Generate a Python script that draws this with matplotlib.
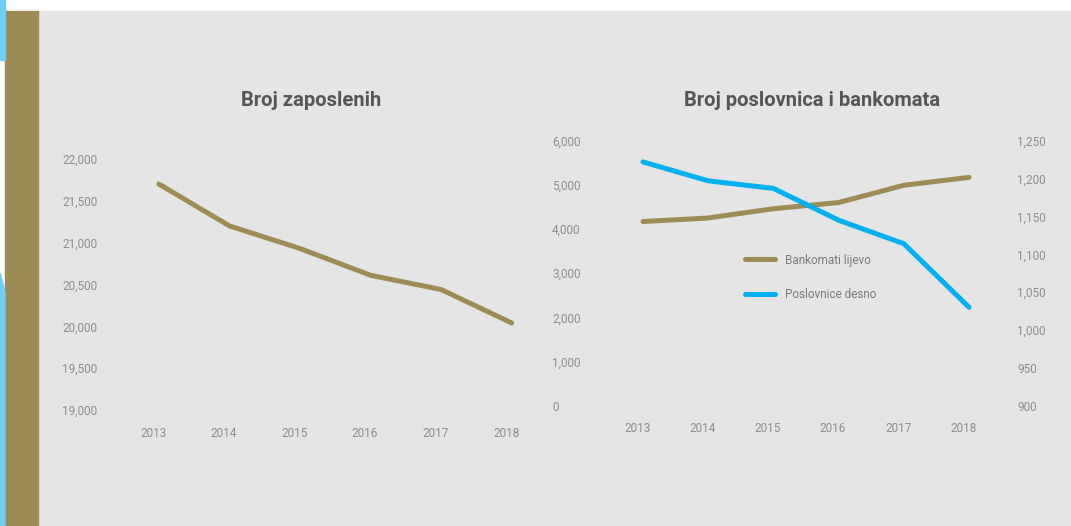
import matplotlib.pyplot as plt
import matplotlib.transforms as mtransforms
from matplotlib.patches import Rectangle, Polygon

plt.rcParams['font.family'] = ['Roboto', 'DejaVu Sans']

years = ['2013', '2014', '2015', '2016', '2017', '2018']
zaposleni = [21700, 21200, 20930, 20610, 20440, 20040]
bankomati = [4170, 4250, 4460, 4600, 4990, 5170]
poslovnice = [1222, 1197, 1187, 1145, 1114, 1030]

emp_ticks = [19000, 19500, 20000, 20500, 21000, 21500, 22000]
atm_ticks = [0, 1000, 2000, 3000, 4000, 5000, 6000]
branch_ticks = [900, 950, 1000, 1050, 1100, 1150, 1200, 1250]

TAN = '#9d8d54'
BLUE = '#00b0f0'
BG = '#e5e5e5'
TICK_C = '#8c8c8c'
TITLE_C = '#555555'

W, H = 1071, 526
fig = plt.figure(figsize=(W / 100, H / 100), dpi=100, facecolor='white')


def px_box(x0, y0, x1, y1):
    # pixel box (top-left origin) -> figure fraction rect
    return [x0 / W, 1 - y1 / H, (x1 - x0) / W, (y1 - y0) / H]


# page background, side band and blue edge strip (kept under the axes)
fig.patches.append(Rectangle((38 / W, 0), 1 - 38 / W, 1 - 11 / H,
                             transform=fig.transFigure, color=BG, zorder=-5))
fig.patches.append(Rectangle((5 / W, 0), 33 / W, 1 - 11 / H,
                             transform=fig.transFigure, color='#9c8b54', zorder=-5))
fig.patches.append(Rectangle((0, 1 - 60 / H), 5 / W, 60 / H,
                             transform=fig.transFigure, color='#6dcff6', zorder=-5))
fig.patches.append(Polygon([(0, 1 - 273 / H), (5 / W, 1 - 292 / H), (5 / W, 0), (0, 0)],
                           closed=True, transform=fig.transFigure, color='#6dcff6', zorder=-5))

# year labels sit a little left of the plotted points
shift = mtransforms.ScaledTranslation(-5.5 / 100, 0, fig.dpi_scale_trans)


def style(ax, xpad):
    ax.set_facecolor('none')
    for s in ax.spines.values():
        s.set_visible(False)
    ax.tick_params(length=0, colors=TICK_C, labelsize=8.5)
    ax.set_xlim(-0.5, 5.5)
    ax.set_xticks(range(len(years)))
    ax.set_xticklabels(years)
    ax.tick_params(axis='x', pad=xpad)
    for lab in ax.get_xticklabels():
        lab.set_transform(lab.get_transform() + shift)


# Broj zaposlenih
ax1 = fig.add_axes(px_box(123.7, 159, 547, 410))
style(ax1, 12.5)
ax1.plot(range(len(years)), zaposleni, color=TAN, lw=3.6, solid_capstyle='round', clip_on=False)
ax1.set_ylim(19000, 22000)
ax1.set_yticks(emp_ticks)
ax1.set_yticklabels([f'{v:,}' for v in emp_ticks])
ax1.tick_params(axis='y', pad=44.4)
for lab in ax1.get_yticklabels():
    lab.set_horizontalalignment('left')
fig.text(311 / W, 1 - 100 / H, 'Broj zaposlenih', ha='center', va='center',
         fontsize=14.5, fontweight='bold', color=TITLE_C)

# Broj poslovnica i bankomata
ax2 = fig.add_axes(px_box(610.4, 140.7, 1001.6, 405.7))
style(ax2, 11.5)
l1, = ax2.plot(range(len(years)), bankomati, color=TAN, lw=3.6, solid_capstyle='round',
               clip_on=False, label='Bankomati lijevo')
ax2.set_ylim(0, 6000)
ax2.set_yticks(atm_ticks)
ax2.set_yticklabels([f'{v:,}' for v in atm_ticks])
ax2.tick_params(axis='y', pad=42)
for lab in ax2.get_yticklabels():
    lab.set_horizontalalignment('left')

ax3 = ax2.twinx()
ax3.set_facecolor('none')
for s in ax3.spines.values():
    s.set_visible(False)
l2, = ax3.plot(range(len(years)), poslovnice, color=BLUE, lw=3.6, solid_capstyle='round',
               clip_on=False, label='Poslovnice desno')
ax3.set_ylim(900, 1250)
ax3.set_yticks(branch_ticks)
ax3.set_yticklabels([f'{v:,}' for v in branch_ticks])
ax3.tick_params(length=0, colors=TICK_C, labelsize=8.5, pad=11.1)

fig.legend(handles=[l1, l2], loc='upper left',
           bbox_to_anchor=(734 / W, 1 - 243 / H), frameon=False, fontsize=8.5,
           labelcolor='#7a7a7a', handlelength=2.6, handletextpad=0.8, labelspacing=1.8)
fig.text(812 / W, 1 - 100 / H, 'Broj poslovnica i bankomata', ha='center', va='center',
         fontsize=14.5, fontweight='bold', color=TITLE_C)

fig.savefig('out.png', dpi=100, facecolor=fig.get_facecolor())
